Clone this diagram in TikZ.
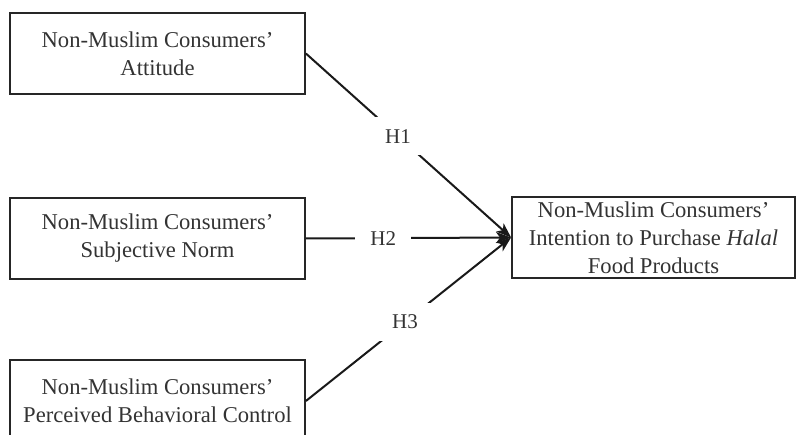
\documentclass[tikz,border=0pt]{standalone}
\usepackage{fontspec}
\setmainfont{Liberation Serif}
\usetikzlibrary{arrows.meta}
\tikzset{
  box/.style={draw=black!85, line width=1.8pt, rectangle, align=center,
    font=\fontsize{22.6}{28}\selectfont, text=black!80, inner sep=0pt},
  link/.style={line width=2pt, draw=black!90, -{Stealth[length=15pt,width=11pt,inset=4pt]}},
  hyp/.style={fill=white, font=\fontsize{21}{24}\selectfont, text=black!80,
    inner xsep=11.5pt, inner ysep=12pt}
}
\begin{document}
\begin{tikzpicture}[x=1pt,y=-1pt]
\useasboundingbox (0,0) rectangle (797,435);
\clip (0,0) rectangle (797,435);
\node[box, minimum width=295pt, minimum height=81pt] (a) at (157.5,53.5)
  {Non-Muslim Consumers'\\Attitude};
\node[box, minimum width=295pt, minimum height=81pt] (b) at (157.5,238.5)
  {Non-Muslim Consumers'\\Subjective Norm};
\node[box, minimum width=295pt, minimum height=82pt] (c) at (157.5,401)
  {Non-Muslim Consumers'\\Perceived Behavioral Control};
\node[box, minimum width=283pt, minimum height=81pt] (t) at (653.5,237.5)
  {Non-Muslim Consumers'\\Intention to Purchase \textit{Halal}\\Food Products};
\draw[link] (a.east) -- node[hyp, pos=0.449] {H1} (t.west);
\draw[link] (b.east) -- node[hyp, pos=0.377, inner xsep=15pt] {H2} (t.west);
\draw[link] (c.east) -- node[hyp, pos=0.483, inner xsep=13pt] {H3} (t.west);
\end{tikzpicture}
\end{document}
